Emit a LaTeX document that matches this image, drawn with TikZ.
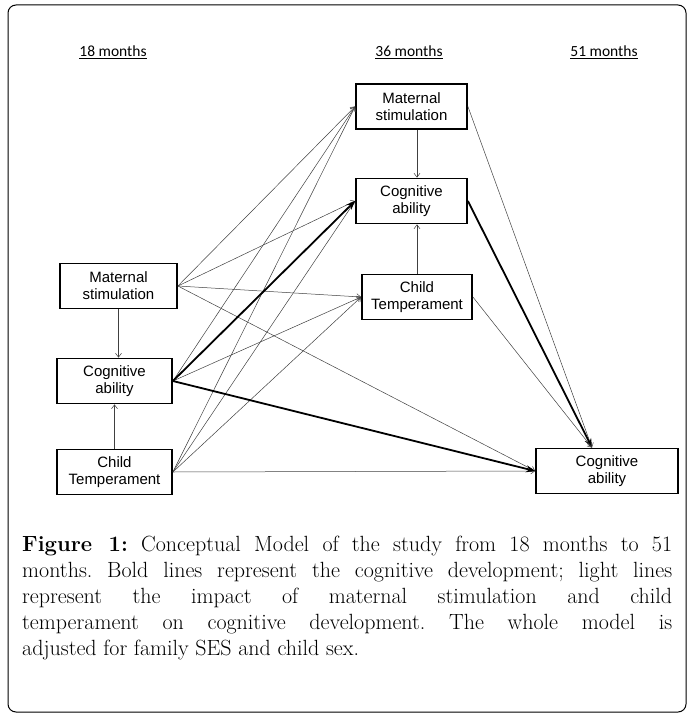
\documentclass[tikz,border=0pt]{standalone}
\usepackage{fontspec}
\newfontfamily\boxfont{Liberation Sans}
\newfontfamily\headfont{Carlito}
\usetikzlibrary{arrows.meta}
\begin{document}
\begin{tikzpicture}[x=1pt,y=-1pt,
  vbox/.style={draw, line width=1.8pt, align=center, inner sep=0pt,
    font=\boxfont\fontsize{15}{17}\selectfont, minimum height=45pt},
  lite/.style={draw=black!75, line width=0.5pt, -{Straight Barb[length=4pt,width=6pt]}},
  heavy/.style={draw=black, line width=1.8pt, -{Stealth[length=9pt,width=7pt]}},
  head/.style={font=\headfont\fontsize{15.5}{18}\selectfont, inner sep=0pt}]
\useasboundingbox (0,0) rectangle (694,719);
\draw[line width=1pt, rounded corners=8pt] (8,5) rectangle (686,712);

\node[head] (h18) at (113,52) {\underline{18 months}};
\node[head] (h36) at (409,52) {\underline{36 months}};
\node[head] (h51) at (604,52) {\underline{51 months}};

\node[vbox, minimum width=111pt] (ms36) at (411.5,106.5) {Maternal\\stimulation};
\node[vbox, minimum width=111pt] (ca36) at (411.5,201) {Cognitive\\ability};
\node[vbox, minimum width=110pt] (ct36) at (417,297) {Child\\Temperament};
\node[vbox, minimum width=117pt] (ms18) at (118.5,286) {Maternal\\stimulation};
\node[vbox, minimum width=115pt] (ca18) at (114.5,381) {Cognitive\\ability};
\node[vbox, minimum width=115pt] (ct18) at (114.5,472) {Child\\Temperament};
\node[vbox, minimum width=142pt] (ca51) at (607,471) {Cognitive\\ability};

\coordinate (in51) at ([xshift=-15pt]ca51.north);

% verticals
\draw[lite] (ms18.south) -- (ms18.south |- ca18.north);
\draw[lite] (ct18.north) -- (ct18.north |- ca18.south);
\draw[lite] ([xshift=5.5pt]ms36.south) -- ([xshift=5.5pt]ms36.south |- ca36.north);
\draw[lite] (ct36.north) -- (ct36.north |- ca36.south);

% from 18 months
\foreach \s in {ms18,ct18}{
  \draw[lite] (\s.east) -- (ms36.west);
  \draw[lite] (\s.east) -- (ca36.west);
  \draw[lite] (\s.east) -- (ct36.west);
  \draw[lite] (\s.east) -- (ca51.west);
}
\draw[lite] (ca18.east) -- (ms36.west);
\draw[lite] (ca18.east) -- (ct36.west);
\draw[heavy] (ca18.east) -- (ca36.west);
\draw[heavy] (ca18.east) -- (ca51.west);

% from 36 months
\draw[lite] (ms36.east) -- (in51);
\draw[heavy] (ca36.east) -- (in51);
\draw[lite] (ct36.east) -- (in51);

\node[anchor=base west, inner sep=0pt, text width=650pt, align=justify,
  font=\fontsize{22}{26}\selectfont\frenchspacing] (cap) at (22,551)
  {\textbf{Figure 1:} Conceptual Model of the study from 18 months to 51\linebreak
   months. Bold lines represent the cognitive development; light lines\linebreak
   represent the impact of maternal stimulation and child\linebreak
   temperament on cognitive development. The whole model is\linebreak
   adjusted for family SES and child sex.};
\end{tikzpicture}
\end{document}
